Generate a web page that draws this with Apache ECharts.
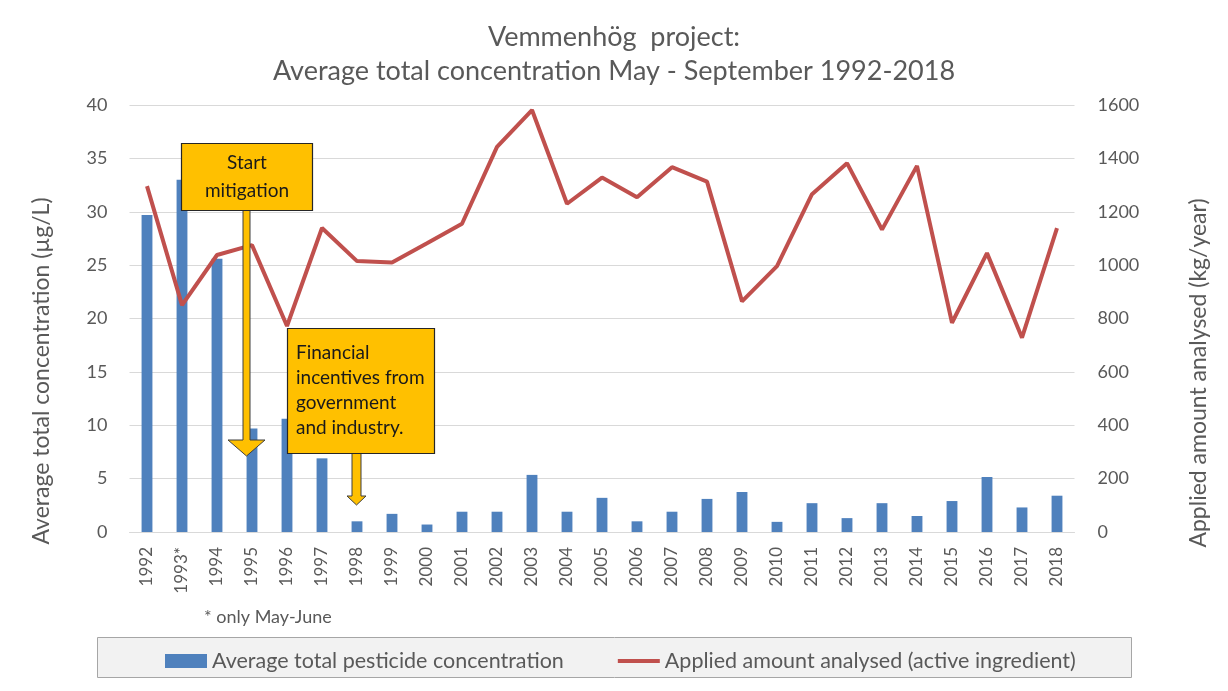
<!DOCTYPE html>
<html>
<head>
<meta charset="utf-8">
<script src="https://cdn.jsdelivr.net/npm/echarts@6/dist/echarts.min.js"></script>
<style>
  html, body { margin: 0; padding: 0; background: #fff; }
  #chart { width: 1228px; height: 691px; }
</style>
</head>
<body>
<div id="chart"></div>
<script>
var years = ['1992', '1993*', '1994', '1995', '1996', '1997', '1998', '1999', '2000', '2001',
  '2002', '2003', '2004', '2005', '2006', '2007', '2008', '2009', '2010', '2011',
  '2012', '2013', '2014', '2015', '2016', '2017', '2018'];

// average total pesticide concentration (µg/L)
var concentration = [29.7, 33.0, 25.6, 9.7, 10.6, 6.9, 1.0, 1.7, 0.7, 1.9,
  1.9, 5.35, 1.9, 3.2, 1.0, 1.9, 3.1, 3.75, 0.95, 2.7,
  1.3, 2.7, 1.5, 2.9, 5.15, 2.3, 3.4];

// applied amount analysed (kg/year)
var applied = [1296, 850, 1038, 1075, 772, 1139, 1015, 1010, 1082, 1155,
  1443, 1581, 1230, 1328, 1254, 1367, 1313, 864, 996, 1266,
  1382, 1133, 1372, 784, 1045, 728, 1139];

var leftTicks = { min: 0, max: 40, interval: 5 };
var rightTicks = { min: 0, max: 1600, interval: 200 };

var txt = '#595959';
var font = 'Lato';

var chart = echarts.init(document.getElementById('chart'));

var option = {
  backgroundColor: '#fff',
  textStyle: { fontFamily: font },
  title: {
    text: 'Vemmenhög  project:\nAverage total concentration May - September 1992-2018',
    left: 'center',
    top: 15,
    textStyle: { color: txt, fontSize: 27, fontWeight: 'normal', lineHeight: 34, fontFamily: font }
  },
  grid: { left: 129.5, right: 153.5, top: 105, bottom: 159 },
  legend: {
    left: 160,
    top: 645,
    itemWidth: 42,
    itemHeight: 14,
    itemGap: 54,
    textStyle: { color: txt, fontSize: 21.5, fontFamily: font },
    data: [
      { name: 'Average total pesticide concentration', icon: 'rect' },
      { name: 'Applied amount analysed (active ingredient)',
        icon: 'path://M0,0 L0,0 M0,5 L42,5 L42,9 L0,9 Z M42,14 L42,14' }
    ]
  },
  xAxis: {
    type: 'category',
    data: years,
    axisLine: { lineStyle: { color: '#d9d9d9', width: 1 } },
    axisTick: { show: false },
    axisLabel: { rotate: 90, color: txt, fontSize: 17, margin: 15, fontFamily: font }
  },
  yAxis: [
    {
      type: 'value',
      min: leftTicks.min, max: leftTicks.max, interval: leftTicks.interval,
      axisLine: { show: false },
      axisTick: { show: false },
      axisLabel: { color: txt, fontSize: 18, margin: 22, fontFamily: font },
      splitLine: { lineStyle: { color: '#d9d9d9', width: 1 } }
    },
    {
      type: 'value',
      min: rightTicks.min, max: rightTicks.max, interval: rightTicks.interval,
      axisLine: { show: false },
      axisTick: { show: false },
      axisLabel: { color: txt, fontSize: 18, margin: 23, fontFamily: font,
        formatter: function (v) { return String(v); } },
      splitLine: { show: false }
    }
  ],
  series: [
    {
      name: 'Average total pesticide concentration',
      type: 'bar',
      yAxisIndex: 0,
      data: concentration,
      barWidth: '31%',
      itemStyle: { color: '#4f81bd' }
    },
    {
      name: 'Applied amount analysed (active ingredient)',
      type: 'line',
      yAxisIndex: 1,
      data: applied,
      symbol: 'none',
      lineStyle: { color: '#c0504d', width: 4 },
      itemStyle: { color: '#c0504d' }
    }
  ],
  graphic: [
    {
      type: 'rect', z: -1, silent: true,
      shape: { x: 97.5, y: 637.5, width: 1034, height: 40 },
      style: { fill: '#f2f2f2', stroke: '#a6a6a6', lineWidth: 1 }
    },
    {
      type: 'text', x: 42, y: 371, rotation: Math.PI / 2,
      style: { text: 'Average total concentration (µg/L)', fill: txt,
        font: '23px ' + font, align: 'center', verticalAlign: 'middle' }
    },
    {
      type: 'text', x: 1199, y: 373, rotation: Math.PI / 2,
      style: { text: 'Applied amount analysed (kg/year)', fill: txt,
        font: '23px ' + font, align: 'center', verticalAlign: 'middle' }
    },
    {
      type: 'text', x: 204, y: 608,
      style: { text: '* only May-June', fill: txt, font: '18px ' + font }
    },
    // arrow 1 (Start mitigation)
    {
      type: 'polygon', z: 100,
      shape: { points: [[243, 210], [250, 210], [250, 440], [265, 440], [246.5, 456], [228, 440], [243, 440]] },
      style: { fill: '#ffc000', stroke: '#3f3f3f', lineWidth: 1 }
    },
    {
      type: 'rect', z: 100,
      shape: { x: 181.5, y: 143.5, width: 131, height: 67 },
      style: { fill: '#ffc000', stroke: '#262626', lineWidth: 1.2 }
    },
    {
      type: 'text', z: 101, x: 247, y: 149,
      style: {
        text: 'Start\nmitigation', fill: '#1a1a1a',
        font: '19px ' + font, align: 'center', lineHeight: 28
      }
    },
    // arrow 2 (Financial incentives)
    {
      type: 'polygon', z: 100,
      shape: { points: [[352, 453], [361, 453], [361, 496], [366, 496], [356.5, 505], [347, 496], [352, 496]] },
      style: { fill: '#ffc000', stroke: '#3f3f3f', lineWidth: 1 }
    },
    {
      type: 'rect', z: 100,
      shape: { x: 287.5, y: 328.5, width: 147, height: 125 },
      style: { fill: '#ffc000', stroke: '#262626', lineWidth: 1.2 }
    },
    {
      type: 'text', z: 101, x: 296, y: 340,
      style: {
        text: 'Financial\nincentives from\ngovernment\nand industry.',
        fill: '#1a1a1a', font: '19px ' + font, lineHeight: 25
      }
    }
  ]
};

chart.setOption(option);
</script>
</body>
</html>
